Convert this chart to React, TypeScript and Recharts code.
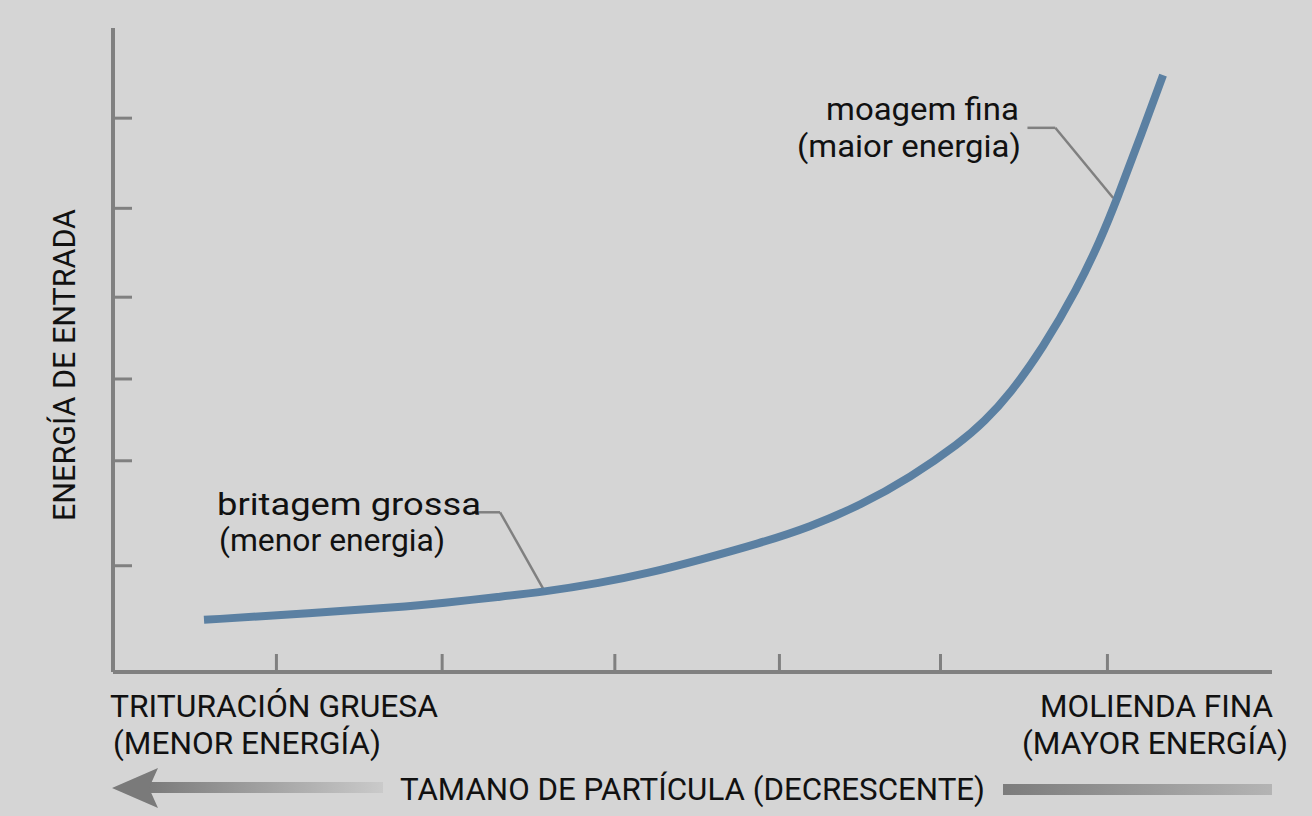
import React from "react";
import { LineChart, Line, XAxis, YAxis, ReferenceLine } from "recharts";

// curve (x = position along particle size axis, y = energy)
const sizePos = [7.85, 16.1, 24.8, 28.4, 33.4, 37.0, 42.0, 46.3, 50.6, 55.8, 60.1, 64.5, 68.8, 73.1, 75.2, 77.4, 80.2, 83.2, 85.2, 86.6, 88.6, 90.6];
const energy = [8.1, 9.0, 10.1, 10.7, 11.7, 12.4, 13.8, 15.4, 17.4, 20.0, 22.5, 25.9, 30.2, 35.6, 38.9, 43.2, 50.2, 59.5, 67.1, 73.3, 82.9, 92.7];

const xTickValues = [14.1, 28.4, 43.3, 57.5, 71.4, 85.8];
const yTickValues = [16.5, 32.8, 45.5, 58.2, 72.0, 86.0];

const coarseLabel = ["britagem grossa", "(menor energia)"];
const fineLabel = ["moagem fina", "(maior energia)"];

const data = sizePos.map((x, i) => ({ x, y: energy[i] }));

const AXIS = "#808080";
const CURVE = "#5b80a2";
const FONT = "Roboto, 'Noto Sans', sans-serif";

export default function App() {
  return (
    <div
      style={{
        position: "absolute",
        left: 0,
        top: 0,
        width: 1312,
        height: 816,
        background: "#d5d5d5",
        fontFamily: FONT,
      }}
    >
      <LineChart
        width={1312}
        height={816}
        data={data}
        margin={{ top: 28, right: 40, bottom: 144, left: 113 }}
      >
        <XAxis
          type="number"
          dataKey="x"
          domain={[0, 100]}
          ticks={xTickValues}
          tickFormatter={() => ""}
          mirror
          tickSize={18}
          height={1}
          axisLine={{ stroke: AXIS, strokeWidth: 4 }}
          tickLine={{ stroke: AXIS, strokeWidth: 3 }}
        />
        <YAxis
          type="number"
          domain={[0, 100]}
          ticks={yTickValues}
          tickFormatter={() => ""}
          mirror
          tickSize={19}
          width={1}
          axisLine={{ stroke: AXIS, strokeWidth: 4 }}
          tickLine={{ stroke: AXIS, strokeWidth: 3 }}
        />
        <ReferenceLine segment={[{ x: 30.97, y: 24.8 }, { x: 33.4, y: 24.8 }]} stroke={AXIS} strokeWidth={2.5} />
        <ReferenceLine segment={[{ x: 33.4, y: 24.8 }, { x: 37.1, y: 13.0 }]} stroke={AXIS} strokeWidth={2.5} />
        <ReferenceLine segment={[{ x: 78.9, y: 84.5 }, { x: 81.3, y: 84.5 }]} stroke={AXIS} strokeWidth={2.5} />
        <ReferenceLine segment={[{ x: 81.3, y: 84.5 }, { x: 86.3, y: 73.6 }]} stroke={AXIS} strokeWidth={2.5} />
        <Line
          type="basis"
          dataKey="y"
          stroke={CURVE}
          strokeWidth={8}
          dot={false}
          isAnimationActive={false}
        />
      </LineChart>

      <svg
        width={1312}
        height={816}
        style={{ position: "absolute", left: 0, top: 0, pointerEvents: "none" }}
      >
        <defs>
          <linearGradient id="leftArrow" x1="0" x2="1" y1="0" y2="0">
            <stop offset="0" stopColor="#7a7a7a" />
            <stop offset="1" stopColor="#cacaca" />
          </linearGradient>
          <linearGradient id="rightBar" x1="0" x2="1" y1="0" y2="0">
            <stop offset="0" stopColor="#7c7c7c" />
            <stop offset="1" stopColor="#b4b4b4" />
          </linearGradient>
        </defs>

        <g fill="#111" fontFamily={FONT}>
          <text
            transform="translate(75 365) rotate(-90)"
            textAnchor="middle"
            fontSize={31}
            textLength={312}
            lengthAdjust="spacingAndGlyphs"
          >
            ENERGÍA DE ENTRADA
          </text>

          <text x={217} y={515} fontSize={31} textLength={264} lengthAdjust="spacingAndGlyphs">
            {coarseLabel[0]}
          </text>
          <text x={219} y={551} fontSize={31} textLength={226} lengthAdjust="spacingAndGlyphs">
            {coarseLabel[1]}
          </text>

          <text x={1019} y={120} fontSize={31} textAnchor="end" textLength={193} lengthAdjust="spacingAndGlyphs">
            {fineLabel[0]}
          </text>
          <text x={1021} y={157} fontSize={31} textAnchor="end" textLength={224} lengthAdjust="spacingAndGlyphs">
            {fineLabel[1]}
          </text>

          <text x={110} y={717} fontSize={31} textLength={328} lengthAdjust="spacingAndGlyphs">
            TRITURACIÓN GRUESA
          </text>
          <text x={113} y={754} fontSize={31} textLength={268} lengthAdjust="spacingAndGlyphs">
            (MENOR ENERGÍA)
          </text>
          <text x={1273} y={717} fontSize={31} textAnchor="end" textLength={233} lengthAdjust="spacingAndGlyphs">
            MOLIENDA FINA
          </text>
          <text x={1288} y={754} fontSize={31} textAnchor="end" textLength={266} lengthAdjust="spacingAndGlyphs">
            (MAYOR ENERGÍA)
          </text>
          <text x={400} y={800} fontSize={31} textLength={585} lengthAdjust="spacingAndGlyphs">
            TAMANO DE PARTÍCULA (DECRESCENTE)
          </text>
        </g>

        <rect x={148} y={782} width={235} height={11} fill="url(#leftArrow)" />
        <polygon points="112,788 158,768 149,788 158,808" fill="#7a7a7a" />
        <rect x={1003} y={784} width={269} height={11} fill="url(#rightBar)" />
      </svg>
    </div>
  );
}
